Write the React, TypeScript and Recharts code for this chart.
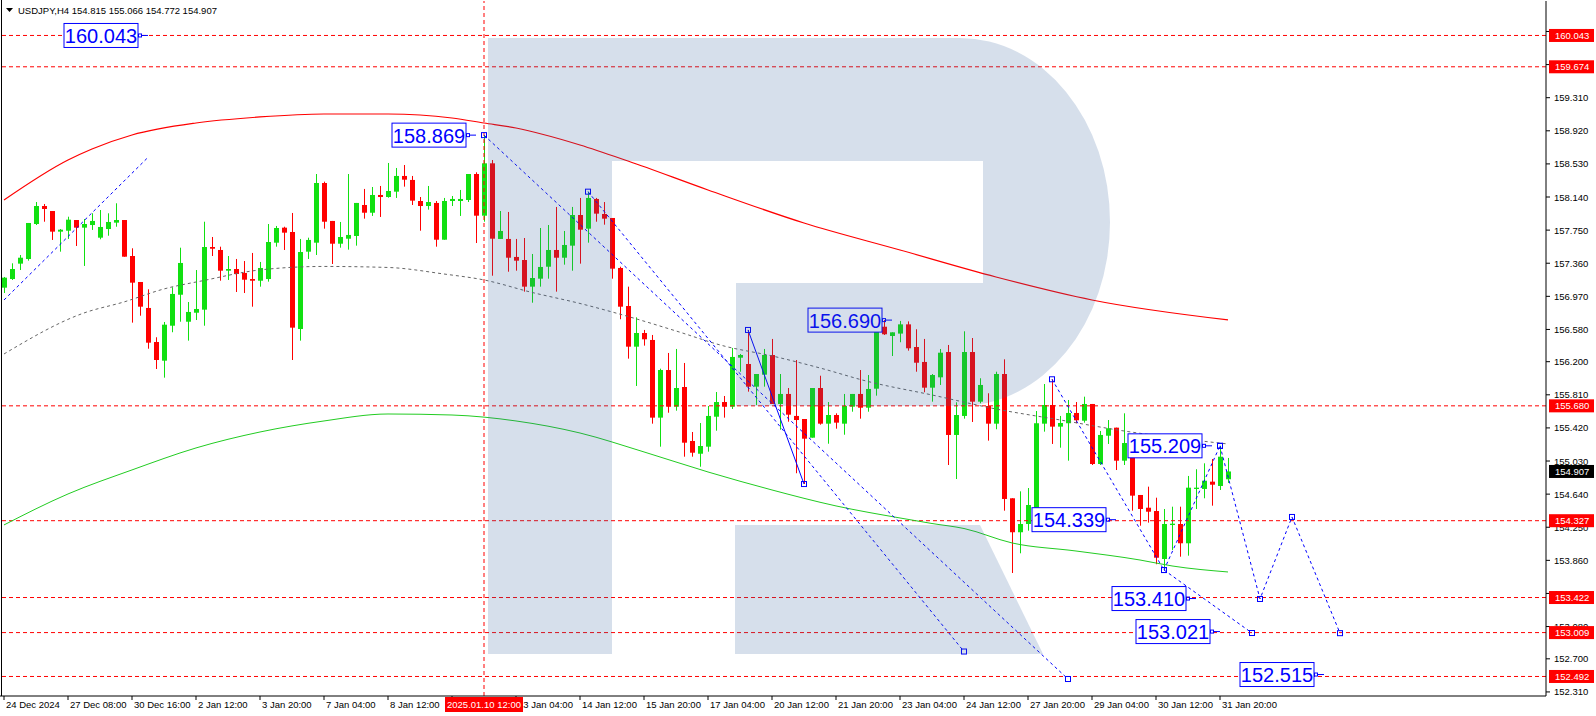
import React from "react"
import { ComposedChart, Bar, Line, XAxis, YAxis, ReferenceLine, ReferenceDot } from "recharts"

const W = 1596
const H = 716
const SLOTS = 193
const GREEN = "#11e011"
const RED = "#ff0000"
const BLUE = "#0000ff"

// USDJPY H4 bars: [open, high, low, close]
const ohlc: number[][] = [
  [157.072, 157.198, 157.009, 157.19], [157.174, 157.359, 157.163, 157.292], [157.355, 157.457, 157.28, 157.425],
  [157.41, 157.834, 157.39, 157.834], [157.822, 158.081, 157.81, 158.034], [158.034, 158.058, 157.849, 157.999],
  [157.975, 157.975, 157.634, 157.732], [157.732, 157.763, 157.496, 157.755], [157.743, 157.908, 157.646, 157.873],
  [157.869, 157.869, 157.563, 157.779], [157.779, 157.881, 157.328, 157.822], [157.81, 157.948, 157.752, 157.858],
  [157.661, 157.987, 157.642, 157.787], [157.763, 157.948, 157.684, 157.846], [157.838, 158.066, 157.79, 157.869],
  [157.869, 157.869, 157.437, 157.437], [157.445, 157.536, 156.66, 157.131], [157.139, 157.139, 156.742, 156.848],
  [156.833, 157.053, 156.353, 156.424], [156.432, 156.488, 156.114, 156.22], [156.212, 156.668, 156.012, 156.636],
  [156.624, 157.077, 156.547, 156.998], [156.989, 157.543, 156.671, 157.363], [156.671, 156.903, 156.448, 156.786],
  [156.777, 157.28, 156.691, 156.821], [156.813, 157.849, 156.624, 157.551], [157.551, 157.669, 157.445, 157.531],
  [157.516, 157.555, 157.154, 157.272], [157.272, 157.445, 157.163, 157.292], [157.292, 157.41, 157.021, 157.233],
  [157.245, 157.386, 157.009, 157.166], [157.174, 157.481, 156.848, 157.154], [157.154, 157.375, 157.084, 157.304],
  [157.174, 157.822, 157.143, 157.61], [157.602, 157.799, 157.555, 157.775], [157.779, 157.79, 157.516, 157.72],
  [157.728, 157.952, 156.22, 156.601], [156.585, 157.646, 156.448, 157.492], [157.496, 157.661, 157.41, 157.634],
  [157.602, 158.411, 157.457, 158.305], [158.305, 158.321, 157.767, 157.849], [157.858, 157.858, 157.351, 157.59],
  [157.59, 157.846, 157.543, 157.669], [157.649, 158.411, 157.52, 157.693], [157.681, 158.07, 157.567, 158.07],
  [158.046, 158.235, 157.885, 157.955], [157.955, 158.258, 157.917, 158.164], [158.164, 158.27, 157.905, 158.14],
  [158.14, 158.541, 158.132, 158.211], [158.203, 158.482, 158.129, 158.388], [158.388, 158.517, 158.262, 158.344],
  [158.341, 158.388, 158.046, 158.097], [158.093, 158.14, 157.743, 158.034], [158.034, 158.27, 157.991, 158.081],
  [158.07, 158.093, 157.555, 157.637], [157.637, 158.129, 157.637, 158.093], [158.093, 158.152, 158.034, 158.117],
  [158.093, 158.223, 157.917, 158.117], [158.105, 158.411, 158.081, 158.411], [158.411, 158.431, 157.598, 157.92],
  [157.92, 158.869, 157.849, 158.537], [158.537, 158.576, 157.213, 157.649], [157.646, 157.975, 157.646, 157.74],
  [157.646, 157.964, 157.26, 157.425], [157.434, 157.646, 157.272, 157.39], [157.398, 157.657, 157.025, 157.084],
  [157.084, 157.469, 156.895, 157.186], [157.178, 157.775, 157.084, 157.316], [157.319, 157.81, 157.178, 157.516],
  [157.516, 158.023, 157.025, 157.425], [157.425, 157.74, 157.343, 157.575], [157.567, 158.023, 157.272, 157.928],
  [157.928, 158.129, 157.355, 157.755], [157.767, 158.203, 157.602, 158.129], [158.117, 158.129, 157.849, 157.944],
  [157.94, 158.081, 157.814, 157.885], [157.893, 157.893, 157.178, 157.296], [157.304, 157.319, 156.7, 156.848],
  [156.856, 157.084, 156.236, 156.377], [156.377, 156.723, 155.914, 156.538], [156.538, 156.574, 156.389, 156.464],
  [156.456, 156.515, 155.47, 155.541], [155.541, 156.118, 155.199, 156.102], [156.102, 156.303, 155.599, 155.67],
  [155.67, 156.35, 155.623, 155.89], [155.902, 156.185, 155.081, 155.246], [155.266, 155.372, 155.081, 155.128],
  [155.116, 155.478, 154.963, 155.207], [155.199, 155.678, 155.14, 155.561], [155.552, 155.843, 155.387, 155.725],
  [155.725, 155.796, 155.541, 155.67], [155.67, 156.362, 155.643, 156.256], [156.247, 156.291, 156.082, 156.279],
  [156.173, 156.574, 155.847, 155.906], [155.906, 156.055, 155.69, 156.055], [156.047, 156.35, 155.906, 156.279],
  [156.279, 156.468, 155.702, 155.702], [155.702, 156.055, 155.399, 155.82], [155.82, 155.89, 155.493, 155.576],
  [155.561, 156.22, 154.886, 155.513], [155.525, 155.525, 154.759, 155.293], [155.305, 155.89, 155.305, 155.89],
  [155.89, 156.035, 155.458, 155.47], [155.47, 155.725, 155.234, 155.572], [155.572, 155.592, 155.411, 155.482],
  [155.47, 155.82, 155.34, 155.678], [155.67, 155.82, 155.611, 155.82], [155.82, 156.102, 155.529, 155.658],
  [155.658, 156.043, 155.611, 155.879], [155.882, 156.68, 155.8, 156.68], [156.612, 156.69, 156.515, 156.523],
  [156.503, 156.546, 156.267, 156.546], [156.531, 156.68, 156.429, 156.64], [156.64, 156.675, 156.33, 156.358],
  [156.373, 156.582, 156.082, 156.188], [156.197, 156.468, 155.84, 155.894], [155.894, 156.055, 155.729, 156.043],
  [156.016, 156.35, 155.926, 156.306], [156.314, 156.397, 154.983, 155.337], [155.337, 155.722, 154.818, 155.572],
  [155.561, 156.558, 155.529, 156.314], [156.314, 156.479, 155.49, 155.729], [155.729, 156.005, 155.71, 155.926],
  [155.678, 155.828, 155.27, 155.47], [155.47, 156.082, 155.404, 156.055], [156.055, 156.228, 154.445, 154.583],
  [154.591, 154.591, 153.711, 154.191], [154.191, 154.673, 153.943, 154.288], [154.288, 154.712, 154.209, 154.512],
  [154.473, 155.619, 154.433, 155.475], [155.47, 155.937, 155.376, 155.69], [155.69, 155.993, 155.231, 155.435],
  [155.435, 155.561, 155.187, 155.478], [155.475, 155.749, 155.034, 155.596], [155.596, 155.725, 155.475, 155.51],
  [155.505, 155.788, 155.482, 155.702], [155.702, 155.702, 154.983, 154.995], [154.995, 155.384, 154.983, 155.337],
  [155.328, 155.513, 155.231, 155.416], [155.423, 155.423, 154.924, 155.034], [155.034, 155.592, 154.983, 155.242],
  [155.219, 155.219, 154.445, 154.622], [154.63, 154.63, 154.268, 154.465], [154.48, 154.728, 154.304, 154.433],
  [154.441, 154.598, 153.814, 153.891], [153.876, 154.465, 153.746, 154.288], [154.276, 154.492, 153.982, 154.292],
  [154.288, 154.492, 153.903, 154.061], [154.061, 154.854, 153.915, 154.716], [154.701, 154.933, 154.465, 154.716],
  [154.701, 155.003, 154.591, 154.798], [154.787, 155.054, 154.504, 154.751], [154.736, 155.209, 154.689, 155.081],
  [154.815, 155.066, 154.772, 154.907],
]

// moving averages, [bar, price]
const redMa = [
  [0, 158.105], [8, 158.576], [11, 158.706], [16, 158.871], [24, 159.012], [32, 159.083], [40, 159.118],
  [48, 159.118], [56, 159.071], [60, 159.012], [64, 158.953], [72, 158.753], [78, 158.564], [88, 158.223],
  [100, 157.834], [112, 157.516], [124, 157.198], [136, 156.927], [153, 156.692],
]
const greenMa = [
  [0, 154.277], [8, 154.642], [16, 154.925], [24, 155.184], [32, 155.372], [40, 155.502], [48, 155.584],
  [56, 155.572], [64, 155.502], [72, 155.36], [80, 155.137], [88, 154.901], [96, 154.689], [104, 154.501],
  [112, 154.359], [116, 154.294], [120, 154.235], [126, 154.065], [134, 153.97], [142, 153.864], [146, 153.794],
  [153, 153.723],
]
const grayMa = [
  [0, 156.291], [10, 156.774], [15, 156.904], [20, 157.057], [25, 157.157], [32, 157.281], [40, 157.322],
  [48, 157.31], [55, 157.233], [60, 157.163], [66, 157.016], [72, 156.886], [78, 156.733], [84, 156.562],
  [90, 156.385], [96, 156.268], [102, 156.126], [108, 155.967], [116, 155.808], [124, 155.643], [132, 155.514],
  [140, 155.384], [148, 155.284], [153, 155.231],
]

// drawn trend / projection lines, [bar, price]
const lineA = [[0, 156.927], [18, 158.607]]
const lineB = [[60, 158.869], [133, 152.462]]
const lineD = [[73, 158.203], [120, 152.786]]
const lineS = [[93, 156.574], [100, 154.759]]
const lineE = [[131, 155.993], [145, 153.746]]
const lineF = [[145, 153.746], [152, 155.209]]
const lineG = [[152, 155.209], [157, 153.405], [161, 154.371], [167, 153.002]]
const lineH = [[145, 153.746], [156, 153.004]]

const trendLines = [
  { key: "tA", pts: lineA, dash: "3 3", dots: false },
  { key: "tB", pts: lineB, dash: "3 3", dots: true },
  { key: "tD", pts: lineD, dash: "3 3", dots: true },
  { key: "tS", pts: lineS, dash: undefined, dots: true },
  { key: "tE", pts: lineE, dash: "3 3", dots: true },
  { key: "tF", pts: lineF, dash: "3 3", dots: true },
  { key: "tG", pts: lineG, dash: "3 3", dots: true },
  { key: "tH", pts: lineH, dash: "3 3", dots: true },
]

// price label objects: [bar, price, text]
const priceLabels: [number, number, string][] = [
  [18, 160.043, "160.043"],
  [59, 158.869, "158.869"],
  [111, 156.69, "156.690"],
  [151, 155.209, "155.209"],
  [139, 154.339, "154.339"],
  [149, 153.41, "153.410"],
  [152, 153.021, "153.021"],
  [165, 152.515, "152.515"],
]

const levels = [160.043, 159.674, 155.68, 154.327, 153.422, 153.009, 152.492]
const lastPrice = 154.907
const tagPrices = [...levels, lastPrice]
const priceTicks = [
  160.09, 159.7, 159.31, 158.92, 158.53, 158.14, 157.75, 157.36, 156.97, 156.58, 156.2, 155.81, 155.42,
  155.03, 154.64, 154.25, 153.86, 153.47, 153.08, 152.7, 152.31,
]
const dateLabels = [
  "24 Dec 2024", "27 Dec 08:00", "30 Dec 16:00", "2 Jan 12:00", "3 Jan 20:00", "7 Jan 04:00", "8 Jan 12:00",
  "9 Jan 20:00", "13 Jan 04:00", "14 Jan 12:00", "15 Jan 20:00", "17 Jan 04:00", "20 Jan 12:00", "21 Jan 20:00",
  "23 Jan 04:00", "24 Jan 12:00", "27 Jan 20:00", "29 Jan 04:00", "30 Jan 12:00", "31 Jan 20:00",
]
const dateTicks = dateLabels.map((_, k) => k * 8)
const markerBar = 60
const markerText = "2025.01.10 12:00"

const DOMAIN: [number, number] = [152.262, 160.449]

const rows = Array.from({ length: SLOTS }, (_, i) => {
  const row: Record<string, any> = { i }
  const c = ohlc[i]
  if (c) Object.assign(row, { o: c[0], h: c[1], l: c[2], c: c[3], range: [c[2], c[1]] })
  return row
})
for (const [i, v] of redMa) rows[i].red = v
for (const [i, v] of greenMa) rows[i].green = v
for (const [i, v] of grayMa) rows[i].gray = v
for (const t of trendLines) for (const [i, v] of t.pts) rows[i][t.key] = v

const FONT = "'Liberation Sans', Arial, sans-serif"

function Candle(props: any) {
  const { x, y, width, height, payload } = props
  if (!payload || payload.o == null) return <g />
  const { o, h, l, c } = payload
  const span = h - l || 1
  const toY = (v: number) => y + ((h - v) / span) * height
  const col = c >= o ? GREEN : RED
  const cx = Math.floor(x + width / 2) + 0.5
  const top = toY(Math.max(o, c))
  const bot = toY(Math.min(o, c))
  return (
    <g>
      <line x1={cx} x2={cx} y1={y} y2={y + height} stroke={col} strokeWidth={1} />
      <rect x={cx - 2.5} y={top} width={5} height={Math.max(1, bot - top)} fill={col} />
    </g>
  )
}

const squareDot = (p: any) =>
  p.value == null || p.cy == null ? (
    <g key={p.key} />
  ) : (
    <rect key={p.key} x={p.cx - 2.5} y={p.cy - 2.5} width={5} height={5} fill="none" stroke={BLUE} strokeWidth={1} />
  )

function DateTick(props: any) {
  const { x, y, payload } = props
  const k = dateTicks.indexOf(payload.value)
  return (
    <text x={x + 2} y={y + 8} fontSize={9.5} fontFamily={FONT} fill="#000" textAnchor="start">
      {dateLabels[k]}
    </text>
  )
}

function PriceTick(props: any) {
  const { x, y, payload } = props
  return (
    <text x={x + 4} y={y + 3.5} fontSize={9.5} fontFamily={FONT} fill="#000" textAnchor="start">
      {Number(payload.value).toFixed(3)}
    </text>
  )
}

// tags drawn by a thin second axis so they sit above the price ticks
function TagTick(props: any) {
  const { x, y, payload } = props
  const v = Number(payload.value)
  const bg = v === lastPrice ? "#000" : RED
  const left = x - 46
  return (
    <g>
      <rect x={left} y={y - 6.5} width={45} height={13} fill={bg} />
      <text x={left + 6} y={y + 3.5} fontSize={9.5} fontFamily={FONT} fill="#fff">
        {v.toFixed(3)}
      </text>
    </g>
  )
}

function TimeTagTick(props: any) {
  const { x, y } = props
  const top = y - 18
  return (
    <g>
      <rect x={x - 39} y={top} width={78} height={15} fill={RED} />
      <text x={x} y={top + 11} fontSize={9.5} fontFamily={FONT} fill="#fff" textAnchor="middle">
        {markerText}
      </text>
    </g>
  )
}

function BlueTag(props: any) {
  const { cx, cy, text } = props
  if (cx == null || cy == null) return <g />
  const right = cx - 10
  return (
    <g>
      <rect x={right - 74} y={cy - 12} width={74} height={24} fill="#fff" stroke={BLUE} strokeWidth={1} />
      <text x={right - 37} y={cy + 7.5} fontSize={20} fontFamily={FONT} fill={BLUE} textAnchor="middle">
        {text}
      </text>
      <rect x={right + 0.5} y={cy - 1.5} width={3} height={3} fill="none" stroke={BLUE} strokeWidth={1} />
      <line x1={right + 3.5} x2={cx} y1={cy} y2={cy} stroke={BLUE} strokeWidth={1} />
    </g>
  )
}

export default function App() {
  return (
    <div style={{ position: "absolute", left: 0, top: 0, width: W, height: H, background: "#fff", overflow: "hidden" }}>
      <ComposedChart
        width={W}
        height={H}
        data={rows}
        margin={{ top: 1, right: 0, bottom: 0, left: 0 }}
        barGap={0}
        barCategoryGap={0}
      >
        <XAxis
          dataKey="i"
          type="category"
          ticks={dateTicks}
          interval={0}
          height={19}
          padding={{ left: 0, right: 2 }}
          tick={<DateTick />}
          tickSize={4}
          tickMargin={0}
          axisLine={{ stroke: "#000" }}
          tickLine={{ stroke: "#000" }}
        />
        <XAxis
          xAxisId="tag"
          dataKey="i"
          type="category"
          ticks={[markerBar]}
          interval={0}
          height={1}
          padding={{ left: 0, right: 2 }}
          tick={<TimeTagTick />}
          tickSize={0}
          tickMargin={0}
          axisLine={false}
          tickLine={false}
        />
        <YAxis
          orientation="right"
          width={49}
          type="number"
          domain={DOMAIN}
          allowDataOverflow
          ticks={priceTicks}
          interval={0}
          tick={<PriceTick />}
          tickSize={4}
          tickMargin={0}
          axisLine={{ stroke: "#000" }}
          tickLine={{ stroke: "#000" }}
        />
        <YAxis
          yAxisId="tags"
          orientation="right"
          width={1}
          type="number"
          domain={DOMAIN}
          allowDataOverflow
          ticks={tagPrices}
          interval={0}
          tick={<TagTick />}
          tickSize={0}
          tickMargin={0}
          axisLine={false}
          tickLine={false}
        />
        {levels.map((lv) => (
          <ReferenceLine key={lv} y={lv} stroke={RED} strokeDasharray="4 3" />
        ))}
        <ReferenceLine x={markerBar} stroke={RED} strokeDasharray="4 3" />
        {priceLabels.map(([b, p, t]) => (
          <ReferenceDot key={t} x={b} y={p} r={0} shape={(pp: any) => <BlueTag {...pp} text={t} />} />
        ))}
        <Line dataKey="red" stroke={RED} strokeWidth={1.2} dot={false} connectNulls type="monotone" isAnimationActive={false} />
        <Line dataKey="green" stroke="#22cc22" strokeWidth={1} dot={false} connectNulls type="monotone" isAnimationActive={false} />
        <Line
          dataKey="gray"
          stroke="#666"
          strokeWidth={1}
          strokeDasharray="3 3"
          dot={false}
          connectNulls
          type="monotone"
          isAnimationActive={false}
        />
        <Bar dataKey="range" barSize={5} shape={Candle} isAnimationActive={false} />
        {trendLines.map((t) => (
          <Line
            key={t.key}
            dataKey={t.key}
            stroke={BLUE}
            strokeWidth={1}
            strokeDasharray={t.dash}
            dot={t.dots ? squareDot : false}
            connectNulls
            type="linear"
            isAnimationActive={false}
          />
        ))}
      </ComposedChart>
      <svg width={W} height={H} style={{ position: "absolute", left: 0, top: 0, pointerEvents: "none" }}>
        <g fill="#325f9b" fillOpacity={0.2}>
          <rect x={488} y={38} width={124} height={616} />
          <path d="M612,38 H960 A150,184 0 0 1 960,406 H736 V283 H983 V161 H612 Z" />
          <path d="M735,525 H980 L1043,654 H735 Z" />
        </g>
        <line x1={1.5} x2={1.5} y1={0} y2={696} stroke="#000" strokeWidth={1} />
        <polygon points="6,8 13,8 9.5,12" fill="#000" />
        <text x={18} y={14} fontSize={9.5} fontFamily={FONT} fill="#000">
          USDJPY,H4  154.815 155.066 154.772 154.907
        </text>
      </svg>
    </div>
  )
}
